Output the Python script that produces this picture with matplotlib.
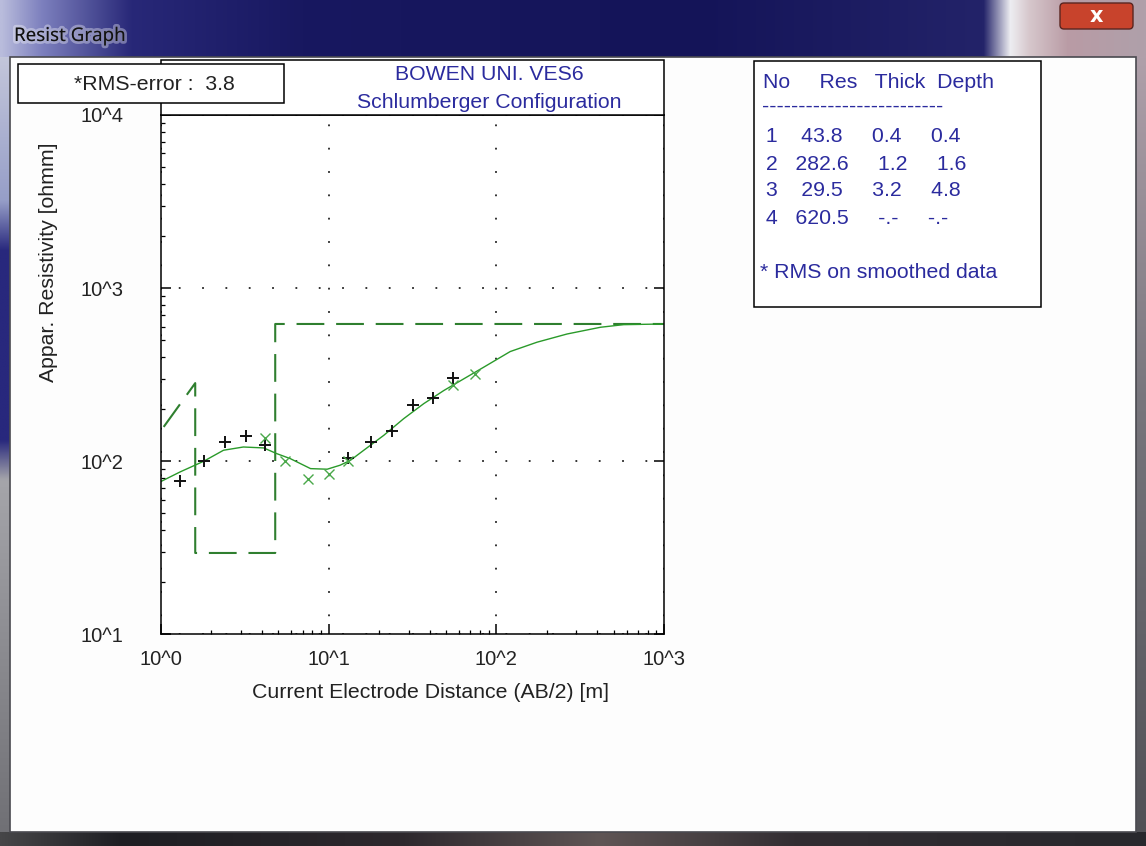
import numpy as np
import matplotlib.pyplot as plt
import matplotlib.patheffects as pe
from matplotlib.patches import Rectangle, FancyBboxPatch
from matplotlib.ticker import NullFormatter

plt.rcParams['font.family'] = ['Liberation Sans', 'DejaVu Sans']
plt.rcParams['lines.scale_dashes'] = False

W, H = 1146, 846

# field data (black +) and smoothed data (green x)
ab2_field = [1.3, 1.8, 2.4, 3.2, 4.2, 13, 18, 24, 32, 42, 55]
rho_field = [77, 100, 129, 140, 124, 104, 129, 149, 210, 232, 302]
ab2_smooth = [4.2, 5.5, 7.5, 10, 13, 55, 75]
rho_smooth = [137, 100, 79, 84, 100, 274, 320]

# calculated curve of the layer model
ab2_calc = [0.99, 1.3, 1.8, 2.36, 3.1, 4.1, 4.9, 5.9, 7.8, 9.8, 11.7, 13.5, 16.2,
            21.3, 28, 36.9, 48.6, 63.9, 84, 121, 175, 264, 418, 575, 1000]
rho_calc = [76, 86.7, 100, 115.7, 120.8, 119.3, 110.6, 103.5, 90.6, 89.9, 94.8, 101.3,
            115.7, 141, 176, 215, 256, 299, 349, 430, 487, 543, 594, 615, 620.5]

# layer model
layer_no = [1, 2, 3, 4]
layer_res = [43.8, 282.6, 29.5, 620.5]
layer_thick = [0.4, 1.2, 3.2]
layer_depth = [0.4, 1.6, 4.8]
rms_error = 3.8

x_ticks = [1, 10, 100, 1000]
x_ticklabels = ['10^0', '10^1', '10^2', '10^3']
y_ticks = [10, 100, 1000, 10000]
y_ticklabels = ['10^1', '10^2', '10^3', '10^4']

fig = plt.figure(figsize=(W / 100, H / 100), dpi=100)

# ---- window frame (pixel coords) ----
bg = fig.add_axes([0, 0, 1, 1], zorder=-2)
bg.axis('off')


def grad(ax, stops, cols, x0, x1, y0, y1, vertical=False):
    t = np.linspace(stops[0], stops[-1], 300)
    c = np.array(cols) / 255.0
    img = np.stack([np.interp(t, stops, c[:, k]) for k in range(3)], axis=-1)
    img = img[:, None, :] if vertical else img[None, :, :]
    ax.imshow(img, extent=(x0, x1, y1, y0), aspect='auto', interpolation='bilinear')


grad(bg, [0, 40, 130, 300, 700, 985, 1012, 1030, 1070, 1146],
     [(185, 188, 220), (125, 128, 190), (40, 40, 120), (24, 24, 96), (20, 20, 88),
      (35, 35, 105), (238, 238, 242), (215, 200, 205), (185, 155, 165), (175, 160, 170)],
     0, W, 0, 57)
grad(bg, [57, 200, 250, 440, 480, 846],
     [(195, 198, 218), (150, 158, 200), (40, 40, 125), (40, 40, 125), (165, 165, 170), (110, 110, 115)],
     0, 10, 57, 846, vertical=True)
grad(bg, [57, 400, 846], [(175, 160, 170), (120, 118, 125), (80, 80, 85)],
     1136, W, 57, 846, vertical=True)
grad(bg, [0, 120, 400, 600, 800, 1146],
     [(70, 70, 72), (30, 30, 35), (45, 40, 45), (95, 85, 85), (50, 45, 50), (40, 40, 45)],
     0, W, 832, H)
bg.add_patch(Rectangle((10, 57), 1126, 775, facecolor='#fdfdfd', edgecolor='#4a4a50', lw=1.2))
bg.add_patch(FancyBboxPatch((1060, 3), 73, 26, boxstyle='round,pad=0,rounding_size=4',
                            fc='#c8432c', ec='#5a2520', lw=1))
bg.text(1096, 16, 'x', color='white', fontsize=15, fontweight='bold', ha='center', va='center',
        family='DejaVu Sans')
bg.text(14, 36, 'Resist Graph', fontsize=13.5, color='#111', va='center', family='Noto Sans',
        path_effects=[pe.withStroke(linewidth=4, foreground=(1, 1, 1, 0.35))])
bg.set_xlim(0, W)
bg.set_ylim(H, 0)

# ---- chart ----
ax = fig.add_axes([161 / W, 1 - 634.3 / H, 503 / W, 519.3 / H])
ax.set_xscale('log')
ax.set_yscale('log')

step_x = [layer_depth[0], layer_depth[1], layer_depth[1], layer_depth[2], layer_depth[2], 1000]
step_y = [layer_res[0], layer_res[1], layer_res[2], layer_res[2], layer_res[3], layer_res[3]]
ax.plot(step_x, step_y, color='#2f7f2f', lw=1.5, dashes=(20, 8.5))
ax.plot(ab2_calc, rho_calc, color='#2a9a2a', lw=1.0)
ax.plot(ab2_field, rho_field, '+', color='#111111', ms=9, mew=1.4)
ax.plot(ab2_smooth, rho_smooth, 'x', color='#4aa84a', ms=6.5, mew=1.0)

tick_fs = 14.5
ax.set_xlim(1, 1000)
ax.set_ylim(10, 10000)
ax.set_xticks(x_ticks)
ax.set_xticklabels(x_ticklabels, fontsize=tick_fs)
ax.set_yticks(y_ticks)
ax.set_yticklabels(y_ticklabels, fontsize=tick_fs)
ax.xaxis.set_minor_formatter(NullFormatter())
ax.yaxis.set_minor_formatter(NullFormatter())
ax.grid(True, which='major', color='#333333', lw=1.4, linestyle=(4, (1.3, 15.5)))
ax.tick_params(which='major', direction='in', length=7.5, width=1.1, right=True, top=False,
               labelsize=tick_fs, labelcolor='#222222')
ax.tick_params(which='minor', direction='in', length=3, width=0.9, right=False, top=False)
ax.tick_params(axis='x', pad=11)
ax.tick_params(axis='y', pad=27)
for s in ax.spines.values():
    s.set_linewidth(1.1)

# ---- overlay boxes and texts ----
ov = fig.add_axes([0, 0, 1, 1], zorder=3)
ov.axis('off')
ov.set_xlim(0, W)
ov.set_ylim(H, 0)

blue = '#2b2b9e'
fs = 15.3
ov.add_patch(Rectangle((160.5, 60), 503.5, 55, fc='white', ec='black', lw=1.1))
ov.text(489, 74, 'BOWEN UNI. VES6', color=blue, fontsize=fs, ha='center', va='center')
ov.text(489, 102, 'Schlumberger Configuration', color=blue, fontsize=fs, ha='center', va='center')

ov.add_patch(Rectangle((18, 64), 266, 39, fc='white', ec='black', lw=1.1))
ov.text(154, 84, f'*RMS-error :  {rms_error:.1f}', color='#222222', fontsize=fs,
        ha='center', va='center')

ov.text(431, 693, 'Current Electrode Distance (AB/2) [m]', color='#222222', fontsize=fs,
        ha='center', va='center')
ov.text(49, 262, 'Appar. Resistivity [ohmm]', color='#222222', fontsize=fs,
        ha='center', va='center', rotation=90)

ov.add_patch(Rectangle((754, 61), 287, 246, fc='white', ec='black', lw=1.1))
ov.text(763, 82, 'No     Res   Thick  Depth', color=blue, fontsize=fs, va='center')
ov.text(762, 106, '-' * 25, color=blue, fontsize=fs, va='center')
row_y = [137, 164, 190, 218]
for i in range(4):
    th = f'{layer_thick[i]:.1f}' if i < 3 else '-.-'
    dp = f'{layer_depth[i]:.1f}' if i < 3 else '-.-'
    ov.text(760, row_y[i], f' {layer_no[i]}{layer_res[i]:8.1f}{th:>8s}{dp:>8s}',
            color=blue, fontsize=fs, va='center')
ov.text(760, 273, '* RMS on smoothed data', color=blue, fontsize=fs, va='center')

fig.savefig('out.png', dpi=100)
